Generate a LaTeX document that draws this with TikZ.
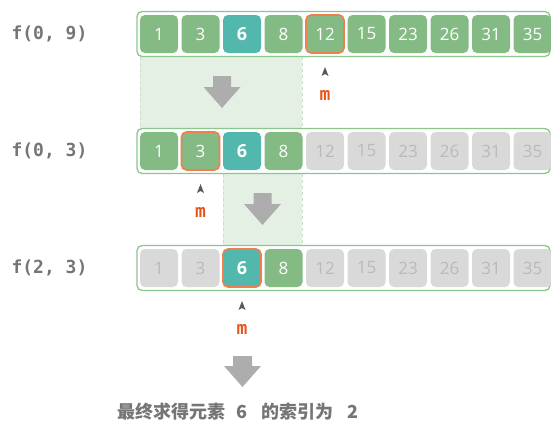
\documentclass[tikz,border=0pt]{standalone}
\usepackage{fontspec}
\setmainfont{Open Sans}
\newfontfamily\codefont{DejaVu Sans Mono}
\newfontfamily\cjkfont{Noto Sans CJK SC}
\usetikzlibrary{positioning, arrows.meta}

\definecolor{cellgreen}{HTML}{84BB84}
\definecolor{cellteal}{HTML}{52B8AE}
\definecolor{cellgray}{HTML}{D9D9D9}
\definecolor{textgray}{HTML}{BABABA}
\definecolor{boxgreen}{HTML}{8CC68C}
\definecolor{shadegreen}{HTML}{E4F0E4}
\definecolor{dashgreen}{HTML}{C6DFC6}
\definecolor{pickorange}{HTML}{F07E4F}
\definecolor{midred}{HTML}{E8561E}
\definecolor{labelgray}{HTML}{757575}
\definecolor{arrowgray}{HTML}{ADADAD}

\begin{document}
\begin{tikzpicture}[
x=1pt, y=-1pt,
cell/.style={rectangle, rounded corners=5pt, minimum width=38pt, minimum height=38pt, inner sep=0pt, font=\fontsize{17}{17}\selectfont, text=white},
cellg/.style={cell, fill=cellgreen},
cellt/.style={cell, fill=cellteal, font=\fontsize{18}{18}\selectfont\bfseries},
cellx/.style={cell, fill=cellgray, text=textgray},
sel/.style={draw=pickorange, line width=1.6pt},
cellgsel/.style={cellg, sel},
celltsel/.style={cellt, sel},
arr/.style={rectangle, draw=boxgreen, line width=1.3pt, rounded corners=5pt, fill=white},
shade/.style={fill=shadegreen},
shadeline/.style={draw=dashgreen, dashed, line width=0.8pt},
fname/.style={font=\codefont\bfseries\fontsize{18}{18}\selectfont, text=labelgray, anchor=west},
midname/.style={font=\codefont\bfseries\fontsize{18}{18}\selectfont, text=midred},
ptr/.style={fill=black!65},
downarr/.style={fill=arrowgray}
]
\useasboundingbox (0,0) rectangle (551,423);

% shaded ranges between the steps
\fill[shade] (140,56.5) rectangle (302,128.5);
\draw[shadeline] (140,56.5) -- (140,128.5) (302,56.5) -- (302,128.5);
\fill[shade] (223,173.5) rectangle (302,245.5);
\draw[shadeline] (223,173.5) -- (223,245.5) (302,173.5) -- (302,245.5);

% array frames
\draw[arr] (137,11.5) rectangle (550,56.5);
\draw[arr] (137,128.5) rectangle (550,173.5);
\draw[arr] (137,245.5) rectangle (550,290.5);

% f(0, 9)
\node[fname] (f09) at (8,34) {f(0, 9)};
\foreach \v/\s [count=\i from 0] in {1/cellg,3/cellg,6/cellt,8/cellg,12/cellgsel,15/cellg,23/cellg,26/cellg,31/cellg,35/cellg}
  \node[\s] (a-\i) at (159+41.5*\i,34) {\v};

% f(0, 3)
\node[fname] (f03) at (8,151) {f(0, 3)};
\foreach \v/\s [count=\i from 0] in {1/cellg,3/cellgsel,6/cellt,8/cellg,12/cellx,15/cellx,23/cellx,26/cellx,31/cellx,35/cellx}
  \node[\s] (b-\i) at (159+41.5*\i,151) {\v};

% f(2, 3)
\node[fname] (f23) at (8,268) {f(2, 3)};
\foreach \v/\s [count=\i from 0] in {1/cellx,3/cellx,6/celltsel,8/cellg,12/cellx,15/cellx,23/cellx,26/cellx,31/cellx,35/cellx}
  \node[\s] (c-\i) at (159+41.5*\i,268) {\v};

% midpoint markers
\node[midname] (ma) at (325,95) {m};
\node[midname] (mb) at (200.5,212) {m};
\node[midname] (mc) at (242,329) {m};
\foreach \m in {ma,mb,mc}
  \fill[ptr] ([shift={(-3.5,-19)}]\m.center) -- ([shift={(0,-28)}]\m.center) -- ([shift={(3.5,-19)}]\m.center) -- ([shift={(0,-21)}]\m.center) -- cycle;

% block arrows
\fill[downarr] (213,76) -- (231,76) -- (231,87) -- (240.5,87) -- (222,108) -- (203.5,87) -- (213,87) -- cycle;
\fill[downarr] (253.5,193) -- (271.5,193) -- (271.5,204) -- (281,204) -- (262.5,225) -- (244,204) -- (253.5,204) -- cycle;
\fill[downarr] (233,356) -- (252,356) -- (252,366) -- (261,366) -- (242.5,387) -- (224,366) -- (233,366) -- cycle;

\node[font=\cjkfont\bfseries\fontsize{18}{18}\selectfont, text=labelgray] (result) at (238,412) {最终求得元素\hspace{11pt}6\hspace{14pt}的索引为\hspace{14pt}2};

\end{tikzpicture}
\end{document}
